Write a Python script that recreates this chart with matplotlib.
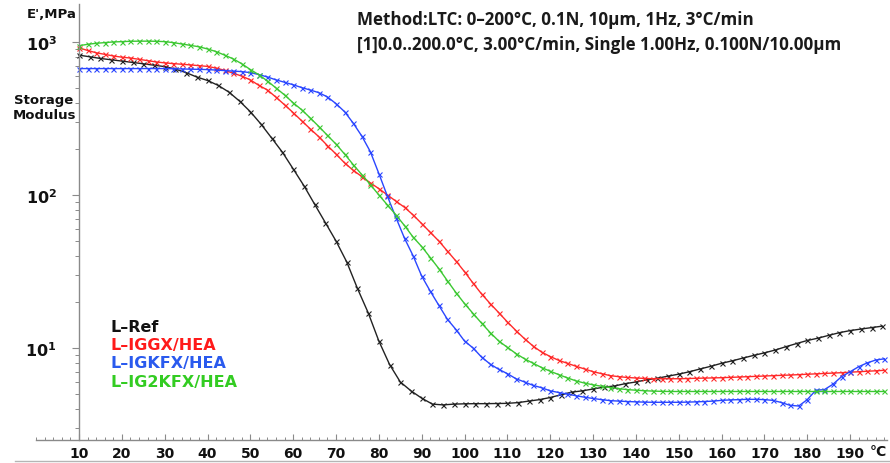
import numpy as np
import matplotlib
matplotlib.use("Agg")
import matplotlib.pyplot as plt
from matplotlib.ticker import FixedLocator, LogLocator, NullFormatter
from matplotlib.lines import Line2D

# ---- data: storage modulus E' (MPa) vs temperature (°C) ----
series_names = ["L\u2013Ref", "L\u2013IGGX/HEA", "L\u2013IGKFX/HEA", "L\u2013IG2KFX/HEA"]
line_colors = ["#222222", "#ff2a2a", "#2a46ff", "#3cc832"]
text_colors = ["#111111", "#ff1a1a", "#2a5aee", "#33cc22"]

# L-Ref, sampled every 2.5 °C from 10 °C
E_ref = [820, 800, 780, 765, 750, 735, 720, 705,
         690, 665, 630, 590, 560, 520, 470, 410,
         350, 290, 235, 190, 148, 115, 87, 66,
         50, 36.5, 24.5, 17, 11.1, 7.8, 6.0, 5.25,
         4.7, 4.3, 4.25, 4.3, 4.32, 4.33, 4.33, 4.34,
         4.35, 4.4, 4.5, 4.6, 4.75, 4.95, 5.15, 5.25,
         5.4, 5.55, 5.65, 5.85, 6.0, 6.2, 6.35, 6.55,
         6.75, 7.0, 7.3, 7.6, 7.95, 8.25, 8.6, 8.95,
         9.3, 9.7, 10.2, 10.7, 11.2, 11.6, 12.1, 12.6,
         13.0, 13.3, 13.6, 13.9]

# the three modified samples, sampled every 2 °C from 10 °C
E_iggx = [915, 880, 850, 830, 810,
          795, 785, 770, 755, 740,
          730, 722, 715, 708, 700,
          692, 675, 652, 625, 598,
          565, 520, 485, 435, 388,
          345, 305, 270, 240, 210,
          185, 162, 145, 132, 120,
          110, 100, 91, 83, 74,
          65, 57, 50, 43, 37,
          31.5, 26.5, 22.5, 19.5, 17,
          14.8, 13.0, 11.5, 10.3, 9.4,
          8.8, 8.3, 7.95, 7.6, 7.3,
          7.0, 6.8, 6.6, 6.5, 6.42,
          6.37, 6.33, 6.3, 6.3, 6.3,
          6.3, 6.32, 6.34, 6.36, 6.38,
          6.4, 6.43, 6.46, 6.5, 6.53,
          6.56, 6.6, 6.63, 6.66, 6.7,
          6.74, 6.78, 6.82, 6.86, 6.9,
          6.95, 7.0, 7.05, 7.1, 7.15]

E_igkfx = [670, 670, 670, 670, 670,
           670, 670, 670, 670, 670,
           670, 668, 666, 664, 662,
           660, 655, 650, 645, 640,
           630, 612, 590, 565, 545,
           525, 503, 485, 466, 437,
           395, 350, 295, 243, 192,
           138, 98, 71, 52, 40,
           29.5, 23.5, 19, 15.4, 13.2,
           11.1, 10.0, 8.7, 7.85, 7.25,
           6.8, 6.3, 6.0, 5.7, 5.5,
           5.25, 5.12, 5.0, 4.88, 4.77,
           4.68, 4.6, 4.53, 4.5, 4.47,
           4.45, 4.43, 4.42, 4.42, 4.42,
           4.42, 4.43, 4.45, 4.47, 4.5,
           4.55, 4.58, 4.6, 4.62, 4.62,
           4.6, 4.55, 4.4, 4.22, 4.18,
           4.6, 5.3, 5.35, 5.8, 6.5,
           7.0, 7.55, 8.0, 8.35, 8.5]

E_ig2kfx = [945, 965, 980, 990, 1000,
            1005, 1010, 1012, 1012, 1010,
            1005, 990, 970, 950, 930,
            900, 865, 820, 775, 720,
            660, 610, 555, 500, 450,
            400, 360, 318, 280, 245,
            215, 185, 158, 136, 117,
            100, 86, 74, 63, 53,
            46, 39, 33, 27.5, 23,
            19.5, 16.8, 14.5, 12.6, 11.1,
            10.1, 9.2, 8.5, 7.95, 7.45,
            7.05, 6.7, 6.38, 6.1, 5.9,
            5.75, 5.62, 5.52, 5.42, 5.35,
            5.3, 5.26, 5.23, 5.21, 5.2,
            5.2, 5.2, 5.2, 5.2, 5.2,
            5.2, 5.2, 5.2, 5.2, 5.2,
            5.2, 5.2, 5.2, 5.2, 5.2,
            5.2, 5.2, 5.2, 5.2, 5.2,
            5.2, 5.2, 5.2, 5.2, 5.2]

T_ref = 10 + 2.5 * np.arange(len(E_ref))
T_mod = 10 + 2.0 * np.arange(len(E_iggx))

x_tick_values = list(range(10, 200, 10))
x_tick_labels = [str(v) for v in x_tick_values]
y_tick_values = [10, 100, 1000]
y_tick_labels = [r"$\mathbf{10^{1}}$", r"$\mathbf{10^{2}}$", r"$\mathbf{10^{3}}$"]

header_lines = ["Method:LTC: 0\u2013200\u00b0C, 0.1N, 10\u00b5m, 1Hz, 3\u00b0C/min",
                "[1]0.0..200.0\u00b0C, 3.00\u00b0C/min, Single 1.00Hz, 0.100N/10.00\u00b5m"]

# ---- figure ----
W, H = 890, 464
fig = plt.figure(figsize=(W / 100, H / 100), dpi=100)
plt.rcParams["mathtext.fontset"] = "dejavusans"


def fx(px):
    return px / W


def fy(py):
    return 1 - py / H


px_per_deg = 4.284
ax_left_px = 79 - 10 * px_per_deg
x_max = 198.5
ax = fig.add_axes([fx(ax_left_px), fy(441), x_max * px_per_deg / W, (441 - 5) / H])
ax.set_xlim(0, x_max)
ax.set_yscale("log")
ax.set_ylim(10 ** 0.399, 10 ** 3.248)

all_T = [T_ref, T_mod, T_mod, T_mod]
all_E = [E_ref, E_iggx, E_igkfx, E_ig2kfx]
for T, E, c in zip(all_T, all_E, line_colors):
    ax.plot(T, E, color=c, lw=1.0, marker="x", ms=3.6, mew=0.8, clip_on=False)

# axes styling
axis_grey = "#8a8a8a"
for side in ("top", "right"):
    ax.spines[side].set_visible(False)
ax.spines["left"].set_position(("data", 10))
ax.spines["left"].set_color(axis_grey)
ax.spines["bottom"].set_color(axis_grey)
ax.spines["left"].set_linewidth(1.0)
ax.spines["bottom"].set_linewidth(1.0)

ax.xaxis.set_major_locator(FixedLocator(x_tick_values))
ax.set_xticklabels(x_tick_labels, fontweight="bold", fontsize=10, color="#111111")
ax.xaxis.set_minor_locator(FixedLocator(list(range(0, 199, 2))))
ax.tick_params(axis="x", which="major", direction="in", length=4, width=0.8,
               color=axis_grey, pad=4.5)
ax.tick_params(axis="x", which="minor", direction="in", length=2.5, width=0.7,
               color=axis_grey)

ax.yaxis.set_major_locator(FixedLocator(y_tick_values))
ax.set_yticklabels(y_tick_labels, fontsize=11.5, color="#111111")
ax.yaxis.set_minor_locator(LogLocator(base=10, subs=range(2, 10)))
ax.yaxis.set_minor_formatter(NullFormatter())
ax.tick_params(axis="y", which="major", direction="out", length=5, width=0.8,
               color=axis_grey, pad=11)
ax.tick_params(axis="y", which="minor", direction="out", length=3, width=0.7,
               color=axis_grey)

# unit label at the end of the temperature axis
fig.text(fx(878), fy(452.5), "\u00b0C", fontsize=10, fontweight="bold",
         ha="center", va="center", color="#111111")

# baseline under the temperature labels
fig.add_artist(Line2D([fx(15), fx(890)], [fy(462), fy(462)], color="#b5b5b5", lw=1.0))

# y-axis captions
fig.text(fx(27), fy(15), "E',MPa", fontsize=9.5, fontweight="bold",
         ha="left", va="center", color="#111111")
fig.text(fx(44), fy(108), "Storage\nModulus", fontsize=9.5, fontweight="bold",
         ha="center", va="center", linespacing=1.15, color="#111111")

# series names
legend_y = [327, 345.5, 364, 382.5]
for name, c, y in zip(series_names, text_colors, legend_y):
    fig.text(fx(111), fy(y), name, fontsize=11.5, fontweight="bold",
             color=c, ha="left", va="center")

# method header, sized so the second line spans its target width
header_fam = ["Open Sans", "DejaVu Sans"]
header_y = [20, 45]
hdr = [fig.text(fx(357), fy(y), s, fontsize=12, fontweight="bold",
                family=header_fam, ha="left", va="center", color="#1a1a1a")
       for s, y in zip(header_lines, header_y)]
renderer = fig.canvas.get_renderer()
w2 = hdr[1].get_window_extent(renderer).width
scale = 483.0 / w2
for t in hdr:
    t.set_fontsize(12 * scale)

fig.savefig("out.png", dpi=100, facecolor="white")
